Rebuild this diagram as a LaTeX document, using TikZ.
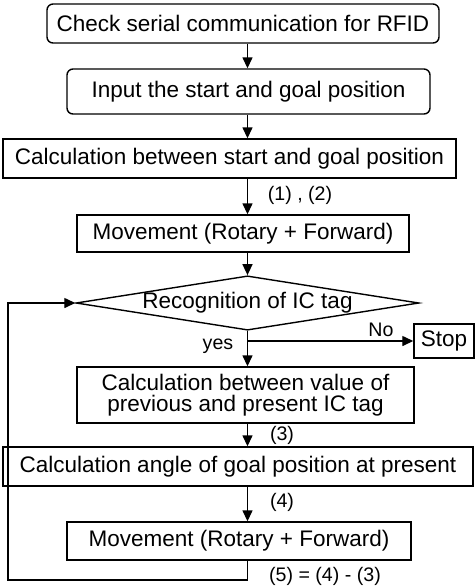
\documentclass[tikz,border=0pt]{standalone}
\usepackage{fontspec}
\setmainfont{Liberation Sans}
\usetikzlibrary{shapes.geometric,arrows.meta,positioning,calc}

\begin{document}
\begin{tikzpicture}[
    x=0.5pt, y=-0.5pt,
    box/.style={draw=black, line width=0.7pt, fill=white, inner sep=0pt, align=center,
        font={\fontsize{11.25}{10.8}\selectfont}},
    roundbox/.style={box, rounded corners=3pt},
    decision/.style={box, diamond, aspect=6.3},
    flowlabel/.style={font={\fontsize{9.8}{11}\selectfont}, inner sep=0pt},
    arr/.style={line width=0.7pt, -{Triangle[length=5.5pt,width=5pt]}}
]
    \useasboundingbox (0,0) rectangle (475,586);
    \coordinate (spine) at (247.5,0);
    \coordinate (loopc) at (8,580);

    % Start up
    \node[roundbox, minimum width=196pt, minimum height=19.5pt] (check) at (243,23.5) {Check serial communication for RFID};
    \node[roundbox, minimum width=181.5pt, minimum height=22.5pt] (input) at (248.5,91.5) {Input the start and goal position};
    \node[box, minimum width=226.5pt, minimum height=19.5pt] (calcsg) at (229.5,158.5) {Calculation between start and goal position};
    \node[box, minimum width=166pt, minimum height=18.5pt] (move1) at (243,233.5) {Movement (Rotary + Forward)};

    % Tag loop
    \node[decision, minimum width=171.5pt, minimum height=26pt] (recog) at (247.5,303) {Recognition of IC tag};
    \node[box, minimum width=30pt, minimum height=17pt] (stop) at (444,341) {Stop};
    \node[box, minimum width=168.5pt, minimum height=28pt] (calcval) at (245.5,395) {Calculation between value of\\previous and present IC tag};
    \node[box, minimum width=235pt, minimum height=19.5pt] (calcangle) at (238,466.5) {Calculation angle of goal position at present};
    \node[box, minimum width=172pt, minimum height=19pt] (move2) at (239,541) {Movement (Rotary + Forward)};

    % Labels
    \node[flowlabel] (lbl12) at (300,195) {(1) , (2)};
    \node[flowlabel] (lblno) at (381,330) {No};
    \node[flowlabel] (lblyes) at (218,346) {yes};
    \node[flowlabel] (lbl3) at (282,435) {(3)};
    \node[flowlabel] (lbl4) at (282,502) {(4)};
    \node[flowlabel] (lbl5) at (325,576) {(5) = (4) - (3)};

    % Arrows
    \draw[arr] (check.south -| spine) -- (input.north -| spine);
    \draw[arr] (input.south -| spine) -- (calcsg.north -| spine);
    \draw[arr] (calcsg.south -| spine) -- (move1.north -| spine);
    \draw[arr] (move1.south -| spine) -- (recog.north);
    \draw[arr] (recog.south) -- (calcval.north -| recog.south);
    \draw[arr] (recog.south |- stop.west) -- (stop.west);
    \draw[arr] (calcval.south -| spine) -- (calcangle.north -| spine);
    \draw[arr] (calcangle.south -| spine) -- (move2.north -| spine);
    \draw[arr] (move2.south -| spine) |- (loopc) |- (recog.west);

\end{tikzpicture}
\end{document}
